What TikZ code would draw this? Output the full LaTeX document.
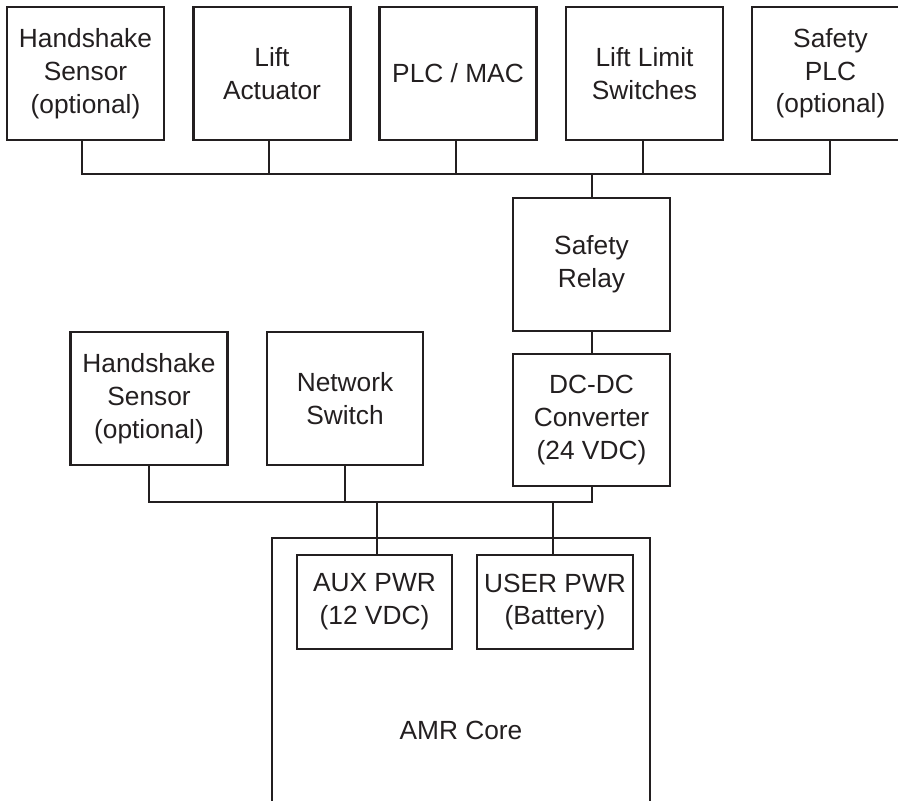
\documentclass[tikz,border=0pt]{standalone}
\usepackage{fontspec}
\setmainfont{Liberation Sans}
\definecolor{ink}{HTML}{231F20}
\begin{document}
\begin{tikzpicture}[x=1pt,y=-1pt,
  blk/.style={draw=ink, line width=2.1pt, rectangle, align=center, text=ink,
    font=\fontsize{26.3}{32.7}\selectfont, inner sep=0pt, minimum width=157pt, minimum height=133pt},
  pwr/.style={blk, minimum width=155pt, minimum height=94pt},
  wire/.style={draw=ink, line width=2.1pt, line cap=rect}]
\useasboundingbox (0,0) rectangle (898,801);
\clip (0,0) rectangle (898,801);
% top row
\node[blk] (hs1) at (85.5,73.5) {Handshake\\Sensor\\(optional)};
\node[blk] (la) at (272,73.5) {Lift\\Actuator};
\node[blk] (plc) at (458,73.5) {PLC / MAC};
\node[blk] (lls) at (644.5,73.5) {Lift Limit\\Switches};
\node[blk] (spl) at (830.5,73.5) {Safety\\PLC\\(optional)};
% middle column
\node[blk] (sr) at (591.5,264.5) {Safety\\Relay};
\node[blk, minimum height=132pt] (dc) at (591.5,420) {DC-DC\\Converter\\(24 VDC)};
% lower row
\node[blk] (hs2) at (149,398.5) {Handshake\\Sensor\\(optional)};
\node[blk, minimum width=156pt] (ns) at (345,398.5) {Network\\Switch};
% AMR core
\node[draw=ink, line width=2.1pt, rectangle, minimum width=378pt, minimum height=320pt, inner sep=0pt] (core) at (461,698) {};
\node[text=ink, font=\fontsize{26.3}{32.7}\selectfont] (coretext) at (461,730) {AMR Core};
\node[pwr] (aux) at (374.5,602) {AUX PWR\\(12 VDC)};
\node[pwr, minimum width=156pt] (usr) at (555,602) {USER PWR\\(Battery)};
% top bus
\coordinate (t1) at (82,174);
\coordinate (t2) at (269,174);
\coordinate (t3) at (456,174);
\coordinate (t4) at (643,174);
\coordinate (t5) at (830,174);
\coordinate (tr) at (592,174);
\draw[wire] (t1) -- (t5);
\draw[wire] (t1) -- (t1 |- hs1.south);
\draw[wire] (t2) -- (t2 |- la.south);
\draw[wire] (t3) -- (t3 |- plc.south);
\draw[wire] (t4) -- (t4 |- lls.south);
\draw[wire] (t5) -- (t5 |- spl.south);
\draw[wire] (tr) -- (tr |- sr.north);
\draw[wire] (sr.south -| tr) -- (dc.north -| tr);
% bottom bus
\coordinate (b1) at (149,502);
\coordinate (b2) at (345,502);
\coordinate (ba) at (377,502);
\coordinate (bu) at (553,502);
\coordinate (bd) at (592,502);
\draw[wire] (b1) -- (bd) -- (bd |- dc.south);
\draw[wire] (b1) -- (b1 |- hs2.south);
\draw[wire] (b2) -- (b2 |- ns.south);
\draw[wire] (ba) -- (ba |- aux.north);
\draw[wire] (bu) -- (bu |- usr.north);
\end{tikzpicture}
\end{document}
